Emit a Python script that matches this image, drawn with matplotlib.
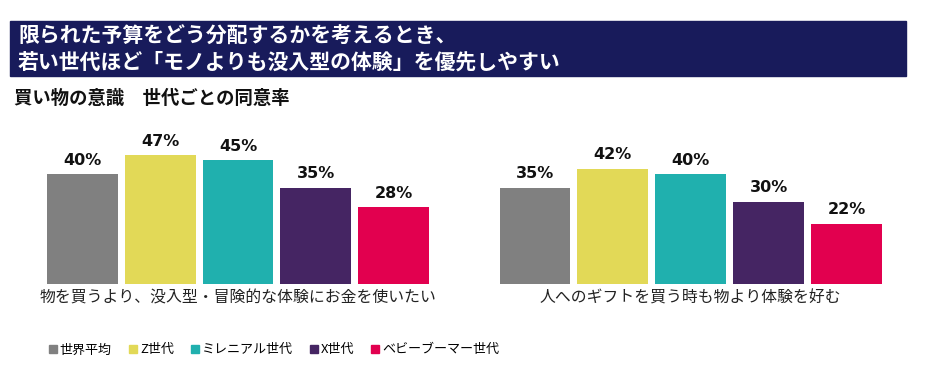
import matplotlib.pyplot as plt
from matplotlib.patches import Rectangle, Patch

plt.rcParams['font.family'] = ['Noto Sans CJK JP', 'DejaVu Sans']

# data
generations = ['世界平均', 'Z世代', 'ミレニアル世代', 'X世代', 'ベビーブーマー世代']
colors = ['#808080', '#e2d957', '#20b0ae', '#452563', '#e2004f']
experience_over_things = [40, 47, 45, 35, 28]
gift_experience = [35, 42, 40, 30, 22]
question_labels = ['物を買うより、没入型・冒険的な体験にお金を使いたい',
                   '人へのギフトを買う時も物より体験を好む']

W, H = 932, 379
fig = plt.figure(figsize=(W / 100, H / 100), dpi=100)

# title banner
fig.patches.append(Rectangle((10 / W, 1 - 76 / H), 896 / W, 55 / H,
                             transform=fig.transFigure, color='#181b5b', zorder=0))
fig.text(18 / W, 1 - 36 / H, '限られた予算をどう分配するかを考えるとき、',
         color='white', fontsize=15, fontweight='bold', va='center')
fig.text(18 / W, 1 - 62 / H, '若い世代ほど「モノよりも没入型の体験」を優先しやすい',
         color='white', fontsize=15, fontweight='bold', va='center')
fig.text(14 / W, 1 - 98 / H, '買い物の意識　世代ごとの同意率',
         color='#111111', fontsize=13.2, fontweight='bold', va='center')

groups = [(experience_over_things, 43.6, 432.4), (gift_experience, 496, 885.5)]
x = range(len(generations))
for (vals, left, right), label in zip(groups, question_labels):
    ax = fig.add_axes([left / W, (H - 284) / H, (right - left) / W, 137.5 / H])
    bars = ax.bar(x, vals, width=0.91, color=colors)
    for b, v in zip(bars, vals):
        ax.annotate(f'{v}%', (b.get_x() + b.get_width() / 2, v), xytext=(0, 4.5),
                    textcoords='offset points', ha='center', va='bottom',
                    fontsize=11.5, fontweight='bold', color='#111111',
                    family='DejaVu Sans')
    ax.set_xlim(-0.5, 4.5)
    ax.set_ylim(0, 50)
    ax.axis('off')
    ax.text(0.5, -0.1, label, transform=ax.transAxes, ha='center', va='center',
            fontsize=11.4, color='#222222')

handles = [Patch(color=c, label=g) for c, g in zip(colors, generations)]
fig.legend(handles=handles, loc='center left', bbox_to_anchor=(37 / W, 1 - 350 / H),
           ncol=5, frameon=False, fontsize=9.4, handlelength=0.6, handleheight=0.6,
           handletextpad=0.25, columnspacing=1.3)

fig.savefig('out.png', dpi=100)
